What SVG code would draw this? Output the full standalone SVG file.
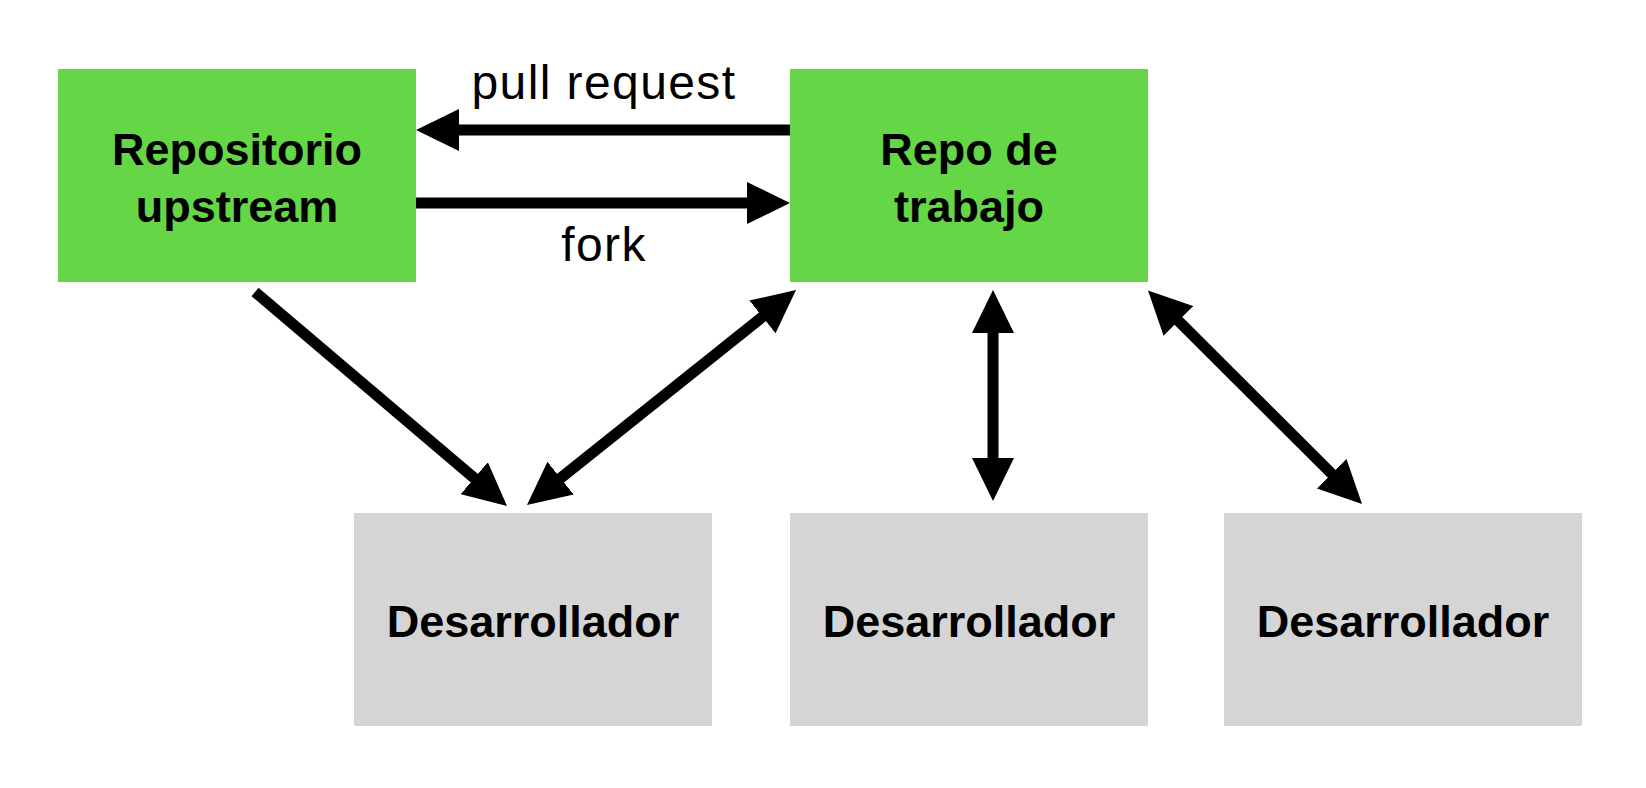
<svg xmlns="http://www.w3.org/2000/svg" width="1646" height="788" viewBox="0 0 1646 788">
<style>
.repo{fill:#65D646}
.dev{fill:#D5D5D5}
.lbl{font-family:"Liberation Sans",Arial,sans-serif;font-weight:bold;font-size:45px;fill:#000;text-anchor:middle}
.edge{font-family:"Liberation Sans",Arial,sans-serif;font-size:48px;letter-spacing:1.4px;fill:#000;text-anchor:middle}
.conn{stroke:#000;stroke-width:11;fill:none;marker-end:url(#ah)}
.both{marker-start:url(#ah)}
</style>
<defs>
<marker id="ah" markerUnits="userSpaceOnUse" viewBox="0 0 43 42" markerWidth="43" markerHeight="42" refX="28" refY="21" orient="auto-start-reverse">
<path d="M0,0 L43,21 L0,42 z" fill="#000"/>
</marker>
</defs>
<rect width="1646" height="788" fill="#fff"/>
<g id="upstream">
<rect class="repo" x="58" y="69" width="358" height="213"/>
<text class="lbl" x="237" y="165">Repositorio</text>
<text class="lbl" x="237" y="222">upstream</text>
</g>
<g id="trabajo">
<rect class="repo" x="790" y="69" width="358" height="213"/>
<text class="lbl" x="969" y="165">Repo de</text>
<text class="lbl" x="969" y="222">trabajo</text>
</g>
<g id="dev1">
<rect class="dev" x="354" y="513" width="358" height="213"/>
<text class="lbl" x="533" y="637">Desarrollador</text>
</g>
<g id="dev2">
<rect class="dev" x="790" y="513" width="358" height="213"/>
<text class="lbl" x="969" y="637">Desarrollador</text>
</g>
<g id="dev3">
<rect class="dev" x="1224" y="513" width="358" height="213"/>
<text class="lbl" x="1403" y="637">Desarrollador</text>
</g>
<g id="connectors">
<line class="conn" x1="790" y1="130" x2="431" y2="130"/>
<text class="edge" x="604" y="99">pull request</text>
<line class="conn" x1="416" y1="203" x2="775" y2="203"/>
<text class="edge" x="604" y="261">fork</text>
<line class="conn" x1="255" y1="292" x2="495.6" y2="496.3"/>
<line class="conn both" x1="538.7" y1="495.6" x2="784.3" y2="299.4"/>
<line class="conn both" x1="993" y1="305" x2="993" y2="486"/>
<line class="conn both" x1="1158.6" y1="301.1" x2="1351.4" y2="493.4"/>
</g>
</svg>
